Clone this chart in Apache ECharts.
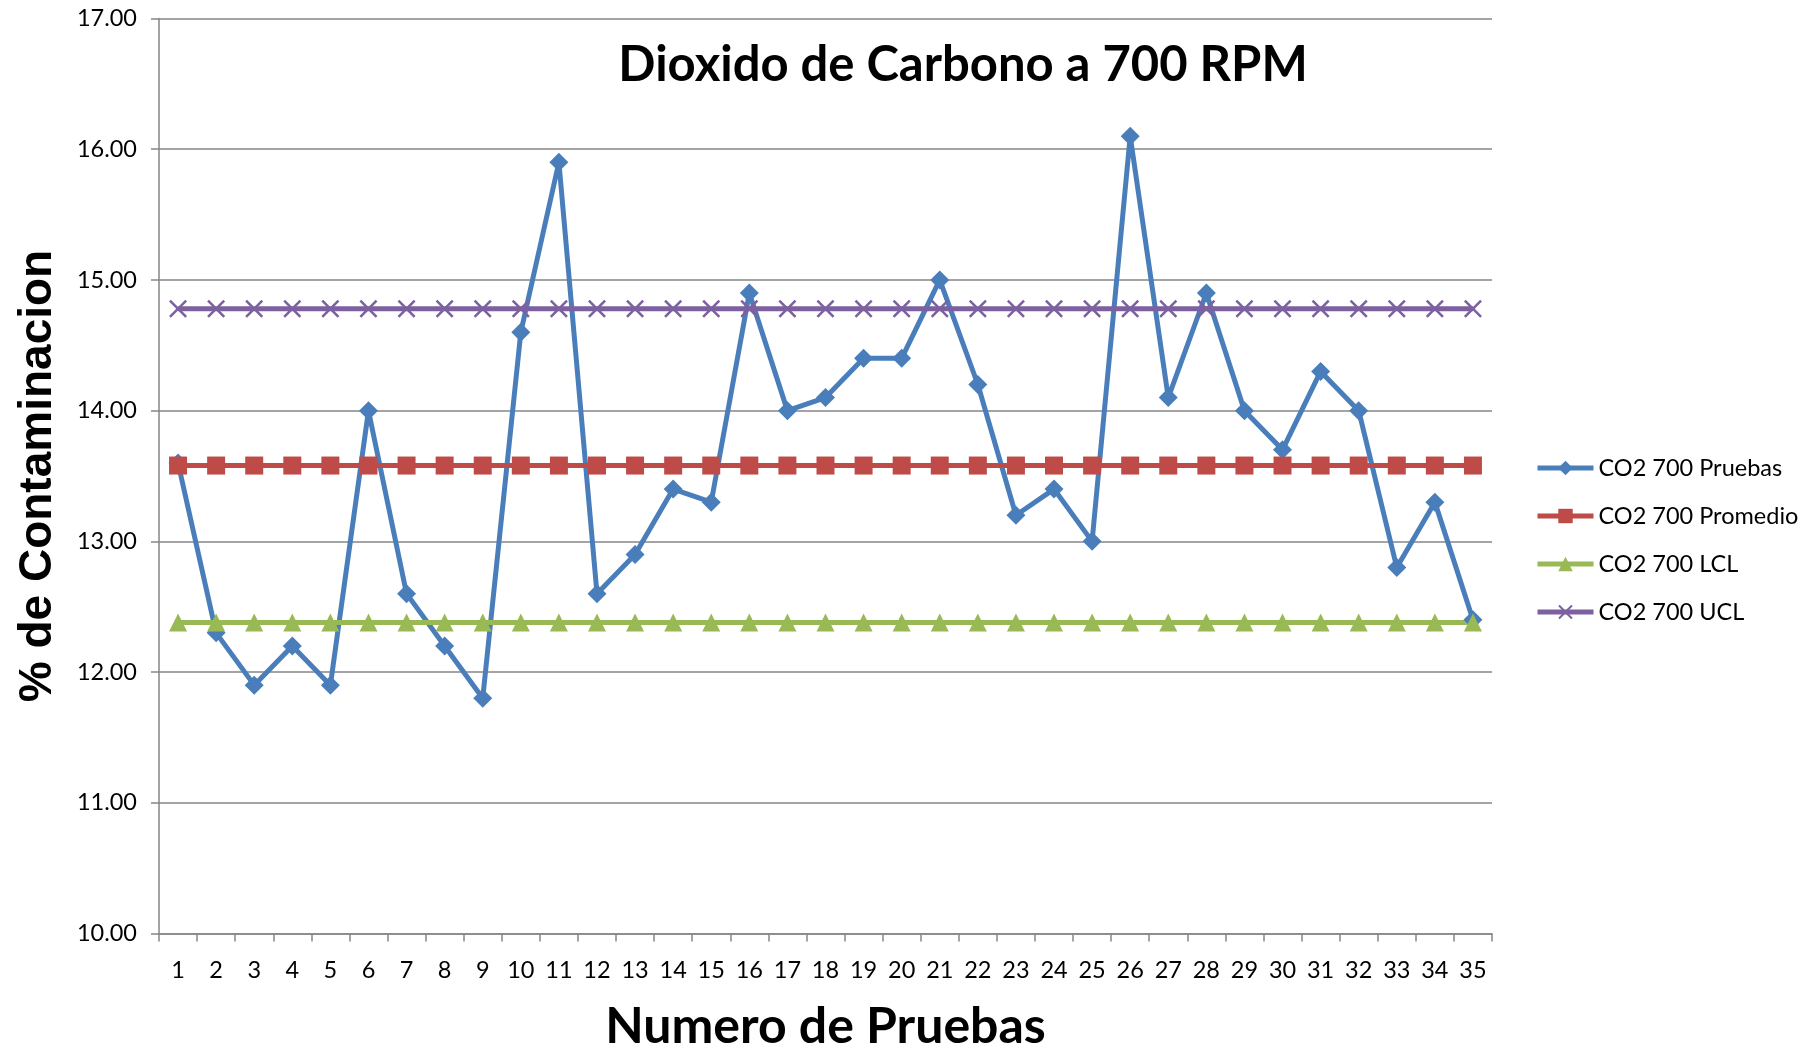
<!DOCTYPE html>
<html>
<head>
<meta charset="utf-8">
<title>Dioxido de Carbono a 700 RPM</title>
<script src="https://cdn.jsdelivr.net/npm/echarts@6/dist/echarts.min.js"></script>
<style>
    html, body { margin: 0; padding: 0; background: #fff; }
    #main { width: 1816px; height: 1048px; }
</style>
</head>
<body>
<div id="main"></div>
<script>
// numero de pruebas
var pruebas = ['1', '2', '3', '4', '5', '6', '7', '8', '9', '10', '11', '12', '13', '14', '15', '16', '17', '18',
    '19', '20', '21', '22', '23', '24', '25', '26', '27', '28', '29', '30', '31', '32', '33', '34', '35'];
// valores medidos (% CO2)
var co2Pruebas = [13.6, 12.3, 11.9, 12.2, 11.9, 14.0, 12.6, 12.2, 11.8, 14.6, 15.9, 12.6, 12.9, 13.4, 13.3, 14.9,
    14.0, 14.1, 14.4, 14.4, 15.0, 14.2, 13.2, 13.4, 13.0, 16.1, 14.1, 14.9, 14.0, 13.7, 14.3, 14.0, 12.8, 13.3, 12.4];
var co2Promedio = [13.58, 13.58, 13.58, 13.58, 13.58, 13.58, 13.58, 13.58, 13.58, 13.58, 13.58, 13.58,
    13.58, 13.58, 13.58, 13.58, 13.58, 13.58, 13.58, 13.58, 13.58, 13.58, 13.58, 13.58, 13.58, 13.58,
    13.58, 13.58, 13.58, 13.58, 13.58, 13.58, 13.58, 13.58, 13.58];
var co2LCL = [12.38, 12.38, 12.38, 12.38, 12.38, 12.38, 12.38, 12.38, 12.38, 12.38, 12.38, 12.38,
    12.38, 12.38, 12.38, 12.38, 12.38, 12.38, 12.38, 12.38, 12.38, 12.38, 12.38, 12.38, 12.38, 12.38,
    12.38, 12.38, 12.38, 12.38, 12.38, 12.38, 12.38, 12.38, 12.38];
var co2UCL = [14.78, 14.78, 14.78, 14.78, 14.78, 14.78, 14.78, 14.78, 14.78, 14.78, 14.78, 14.78,
    14.78, 14.78, 14.78, 14.78, 14.78, 14.78, 14.78, 14.78, 14.78, 14.78, 14.78, 14.78, 14.78, 14.78,
    14.78, 14.78, 14.78, 14.78, 14.78, 14.78, 14.78, 14.78, 14.78];
var seriesNames = ['CO2 700 Pruebas', 'CO2 700 Promedio', 'CO2 700 LCL', 'CO2 700 UCL'];

var gridColor = '#868686';
var fontTxt = 'Lato, "Open Sans", sans-serif';
// marca en forma de X
var crossPath = 'path://M0,1L1,0L5,4L9,0L10,1L6,5L10,9L9,10L5,6L1,10L0,9L4,5Z';

function lineSerie(name, data, color, symbol, size) {
    return {
        name: name,
        type: 'line',
        data: data,
        symbol: symbol,
        symbolSize: size,
        showAllSymbol: true,
        lineStyle: { color: color, width: 5 },
        itemStyle: { color: color },
        emphasis: { disabled: true },
        z: 2
    };
}

var chart = echarts.init(document.getElementById('main'));
chart.setOption({
    animation: false,
    backgroundColor: '#fff',
    title: {
        text: 'Dioxido de Carbono a 700 RPM',
        left: 958,
        textAlign: 'center',
        top: 36,
        textStyle: { fontFamily: fontTxt, fontWeight: 'bold', fontSize: 49, color: '#000' }
    },
    legend: {
        orient: 'vertical',
        left: 1530,
        top: 451,
        itemGap: 24,
        itemWidth: 56,
        itemHeight: 18,
        data: seriesNames,
        lineStyle: { width: 5 },
        textStyle: { fontFamily: fontTxt, fontSize: 23.5, color: '#000' }
    },
    grid: {
        left: 159,
        right: 324,
        top: 18.5,
        bottom: 114.5,
        containLabel: false,
        outerBoundsMode: 'none'
    },
    xAxis: {
        type: 'category',
        data: pruebas,
        boundaryGap: true,
        name: 'Numero de Pruebas',
        nameLocation: 'middle',
        nameGap: 68,
        nameTextStyle: { fontFamily: fontTxt, fontWeight: 'bold', fontSize: 50, color: '#000' },
        axisLine: { lineStyle: { color: gridColor, width: 1.5 } },
        axisTick: { show: true, length: 8, lineStyle: { color: gridColor, width: 1.5 } },
        axisLabel: { margin: 25, fontFamily: fontTxt, fontSize: 23.5, color: '#000', interval: 0 },
        splitLine: { show: false }
    },
    yAxis: {
        type: 'value',
        min: 10,
        max: 17,
        interval: 1,
        name: '% de Contaminacion',
        nameLocation: 'middle',
        nameGap: 98,
        nameTextStyle: { fontFamily: '"Liberation Sans", Arial, sans-serif', fontWeight: 'bold', fontSize: 46, color: '#000' },
        axisLine: { show: true, lineStyle: { color: gridColor, width: 1.5 } },
        axisTick: { show: true, length: 8, lineStyle: { color: gridColor, width: 1.5 } },
        axisLabel: {
            margin: 22,
            fontFamily: fontTxt,
            fontSize: 23.5,
            color: '#000',
            formatter: function (v) { return v.toFixed(2); }
        },
        splitLine: { show: true, lineStyle: { color: gridColor, width: 1.5 } }
    },
    series: [
        lineSerie(seriesNames[0], co2Pruebas, '#4A7EBB', 'diamond', 19),
        lineSerie(seriesNames[1], co2Promedio, '#BE4B48', 'rect', 18),
        lineSerie(seriesNames[2], co2LCL, '#98B954', 'triangle', 18),
        lineSerie(seriesNames[3], co2UCL, '#7D60A0', crossPath, 18)
    ]
});
</script>
</body>
</html>
